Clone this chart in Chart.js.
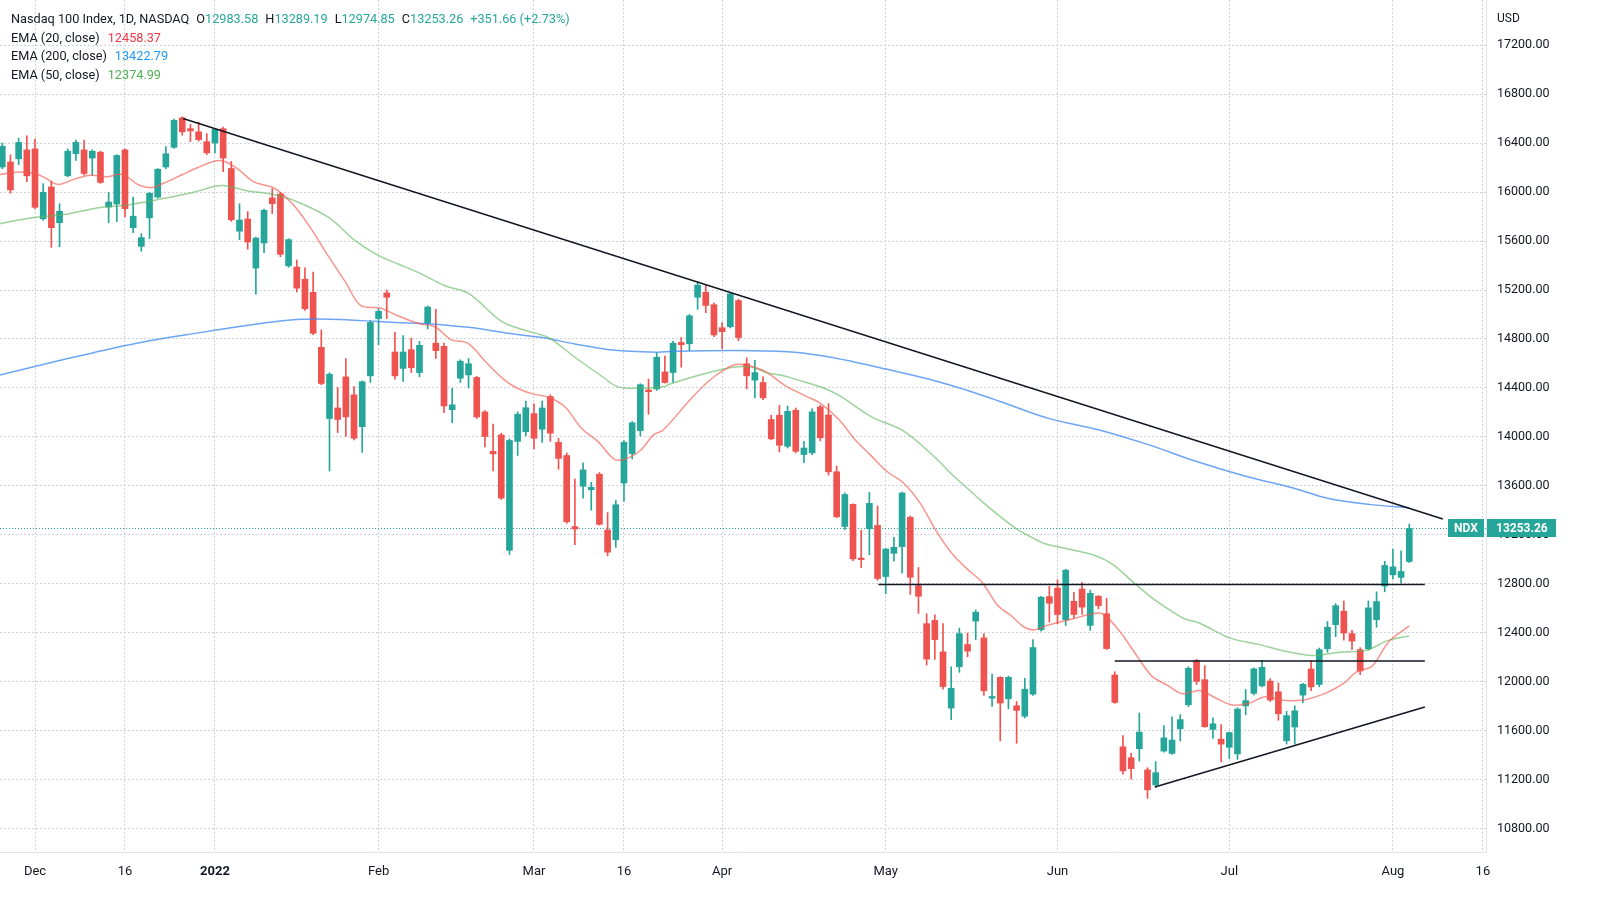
<!DOCTYPE html>
<html>
<head>
<meta charset="utf-8">
<script src="https://cdn.jsdelivr.net/npm/chart.js@4.4.0/dist/chart.umd.min.js"></script>
<style>
  html, body { margin:0; padding:0; background:#ffffff; }
  #wrap { position:relative; width:1606px; height:914px; overflow:hidden; background:#fff; }
  #c { position:absolute; left:0; top:0; }
  .legend { position:absolute; left:11px; top:10px; font:12.7px Roboto, 'Liberation Sans', sans-serif; color:#131722; line-height:18.7px; white-space:nowrap; }
  .legend .k { margin-left:7px; }
  .up { color:#26a69a; }
  .e20 { color:#f23645; }
  .e200 { color:#2196f3; }
  .e50 { color:#4caf50; }
  #usd { position:absolute; left:1497px; top:11px; font:12px Roboto, 'Liberation Sans', sans-serif; color:#131722; }
</style>
</head>
<body>
<div id="wrap">
  <canvas id="c" width="1606" height="914"></canvas>
  <div class="legend">
    <div>Nasdaq 100 Index, 1D, NASDAQ<span class="k">O</span><span class="up">12983.58</span><span class="k">H</span><span class="up">13289.19</span><span class="k">L</span><span class="up">12974.85</span><span class="k">C</span><span class="up">13253.26</span><span class="k up">+351.66 (+2.73%)</span></div>
    <div>EMA (20, close)<span class="e20" style="margin-left:8px">12458.37</span></div>
    <div>EMA (200, close)<span class="e200" style="margin-left:8px">13422.79</span></div>
    <div>EMA (50, close)<span class="e50" style="margin-left:8px">12374.99</span></div>
  </div>
  <div id="usd">USD</div>
</div>
<script>
// ---------------- DATA ----------------
// trading days (first entry = index -4, Dec 1 2021 = index 0)
const dates = ("2021-11-24 2021-11-26 2021-11-29 2021-11-30 " +
 "2021-12-01 2021-12-02 2021-12-03 2021-12-06 2021-12-07 2021-12-08 2021-12-09 2021-12-10 2021-12-13 2021-12-14 2021-12-15 2021-12-16 2021-12-17 2021-12-20 2021-12-21 2021-12-22 2021-12-23 2021-12-27 2021-12-28 2021-12-29 2021-12-30 2021-12-31 " +
 "2022-01-03 2022-01-04 2022-01-05 2022-01-06 2022-01-07 2022-01-10 2022-01-11 2022-01-12 2022-01-13 2022-01-14 2022-01-18 2022-01-19 2022-01-20 2022-01-21 2022-01-24 2022-01-25 2022-01-26 2022-01-27 2022-01-28 2022-01-31 " +
 "2022-02-01 2022-02-02 2022-02-03 2022-02-04 2022-02-07 2022-02-08 2022-02-09 2022-02-10 2022-02-11 2022-02-14 2022-02-15 2022-02-16 2022-02-17 2022-02-18 2022-02-22 2022-02-23 2022-02-24 2022-02-25 2022-02-28 " +
 "2022-03-01 2022-03-02 2022-03-03 2022-03-04 2022-03-07 2022-03-08 2022-03-09 2022-03-10 2022-03-11 2022-03-14 2022-03-15 2022-03-16 2022-03-17 2022-03-18 2022-03-21 2022-03-22 2022-03-23 2022-03-24 2022-03-25 2022-03-28 2022-03-29 2022-03-30 2022-03-31 " +
 "2022-04-01 2022-04-04 2022-04-05 2022-04-06 2022-04-07 2022-04-08 2022-04-11 2022-04-12 2022-04-13 2022-04-14 2022-04-18 2022-04-19 2022-04-20 2022-04-21 2022-04-22 2022-04-25 2022-04-26 2022-04-27 2022-04-28 2022-04-29 " +
 "2022-05-02 2022-05-03 2022-05-04 2022-05-05 2022-05-06 2022-05-09 2022-05-10 2022-05-11 2022-05-12 2022-05-13 2022-05-16 2022-05-17 2022-05-18 2022-05-19 2022-05-20 2022-05-23 2022-05-24 2022-05-25 2022-05-26 2022-05-27 2022-05-31 " +
 "2022-06-01 2022-06-02 2022-06-03 2022-06-06 2022-06-07 2022-06-08 2022-06-09 2022-06-10 2022-06-13 2022-06-14 2022-06-15 2022-06-16 2022-06-17 2022-06-21 2022-06-22 2022-06-23 2022-06-24 2022-06-27 2022-06-28 2022-06-29 2022-06-30 " +
 "2022-07-01 2022-07-05 2022-07-06 2022-07-07 2022-07-08 2022-07-11 2022-07-12 2022-07-13 2022-07-14 2022-07-15 2022-07-18 2022-07-19 2022-07-20 2022-07-21 2022-07-22 2022-07-25 2022-07-26 2022-07-27 2022-07-28 2022-07-29 " +
 "2022-08-01 2022-08-02 2022-08-03").split(" ");
const firstIndex = -4;

const opens = [16204,16245,16271,16344,
 16352,15781,16041,15749,16132,16312,16344,16277,16325,15877,15902,16344,15709,15556,15789,15958,16204,16365,16605,16517,16491,16411,
 16400,16517,16192,15680,15779,15379,15584,15952,15984,15397,15387,15288,15181,14732,14151,14237,14491,14344,14084,14499,
 14967,15176,14694,14560,14713,14526,14927,14766,14740,14223,14480,14507,14486,14205,13883,14017,13075,13964,14044,
 14191,14063,14330,13956,13849,13268,13597,13570,13696,13241,13161,13624,13865,14052,14384,14392,14531,14526,14772,14761,15141,15181,15080,
 14892,14900,15114,14598,14464,14445,14143,14178,13924,14218,13857,13870,14246,14180,13716,13270,13450,13012,13251,13278,
 12861,13050,13105,13344,12786,12476,12503,12246,11787,12125,12306,12497,12360,11868,12038,11863,11806,11720,11901,12427,12697,
 12767,12508,12659,12759,12462,12700,12557,12057,11471,11382,11455,11282,11160,11436,11417,11618,11814,12173,12019,11613,11533,
 11467,11413,11805,11907,11968,12008,11920,11520,11632,11893,12106,11980,12271,12468,12578,12395,12264,12271,12508,12783,
 12875,12854,12983.58];
const highs = [16400,16304,16440,16459,
 16432,16068,16089,15904,16352,16424,16424,16344,16333,15998,16304,16352,15958,15660,15998,16191,16370,16595,16615,16552,16571,16477,
 16520,16530,16251,15904,15840,15632,15860,16027,15995,15619,15445,15382,15347,14874,14525,14405,14641,14411,14459,14950,
 15047,15200,14855,14828,14807,14780,15070,15042,14766,14397,14630,14641,14495,14215,14106,14031,13985,14205,14293,
 14271,14293,14344,13990,13870,13656,13790,13629,13710,13383,13482,13970,14125,14435,14472,14686,14660,14780,14812,15000,15267,15240,15096,
 14935,15181,15125,14646,14625,14491,14178,14258,14253,14237,13964,14230,14259,14273,13763,13545,13455,13238,13548,13437,
 13092,13180,13551,13355,12935,12557,12549,12476,12125,12440,12400,12589,12395,12065,12044,12049,11841,12030,12346,12700,12781,
 12835,12920,12732,12813,12751,12705,12684,12084,11563,11417,11747,11300,11350,11644,11716,11733,12125,12185,12133,11707,11653,
 11592,11790,11939,12115,12179,12027,11992,11760,11805,11990,12172,12277,12494,12640,12662,12421,12280,12662,12736,12985,
 13085,13071,13289.19];
const lows = [16190,15990,16223,16084,
 15864,15768,15548,15553,16124,16258,16137,16137,16070,15749,15757,15797,15668,15516,15620,15950,16191,16355,16464,16411,16415,16305,
 16320,16165,15760,15611,15533,15165,15504,15824,15472,15385,15184,15034,14835,14427,13723,14036,14004,13977,13875,14445,
 14753,14967,14472,14453,14526,14491,14882,14641,14199,14116,14445,14400,14151,13918,13723,13490,13040,13849,14009,
 13902,13956,13964,13736,13295,13121,13501,13402,13281,13030,13100,13474,13822,14009,14186,14380,14440,14445,14571,14705,15042,15015,14820,
 14721,14890,14785,14392,14320,14305,13977,13878,13910,13870,13790,13855,13968,13689,13340,13243,12990,12933,13039,12830,
 12720,12986,12888,12715,12560,12138,12184,11941,11693,12079,12206,12346,11890,11801,11520,11782,11500,11706,11890,12415,12489,
 12476,12462,12524,12551,12422,12597,12265,11825,11247,11207,11355,11050,11140,11428,11409,11517,11800,11980,11630,11539,11347,
 11373,11368,11733,11895,11960,11840,11688,11493,11493,11832,11930,11960,12243,12369,12342,12264,12060,12260,12447,12736,
 12841,12809,12974.85];
const closes = [16373,16017,16405,16132,
 15875,15998,15709,15843,16333,16405,16151,16333,16078,15918,16298,15864,15802,15628,15990,16186,16312,16585,16491,16499,16427,16320,
 16512,16277,15773,15771,15592,15624,15851,15904,15491,15611,15215,15047,14847,14437,14512,14143,14164,13990,14451,14935,
 15026,15141,14499,14694,14566,14748,15061,14705,14253,14263,14619,14598,14164,14004,13862,13501,13972,14186,14239,
 13990,14237,14031,13825,13308,13249,13731,13589,13287,13060,13447,13956,14116,14427,14370,14651,14445,14766,14753,14989,15240,15074,14833,
 14860,15168,14812,14499,14526,14320,13985,13932,14210,13883,13910,14205,13994,13716,13349,13530,13005,12999,13458,12845,
 13085,13100,13543,12855,12700,12187,12346,11963,11949,12395,12252,12570,11928,11882,11828,12038,11768,11941,12281,12692,12643,
 12551,12913,12551,12611,12724,12624,12273,11833,11274,11293,11590,11120,11260,11544,11526,11693,12112,12005,11635,11659,11493,
 11587,11779,11848,12107,12120,11853,11741,11725,11765,11981,11960,12264,12447,12623,12400,12334,12090,12605,12657,12951,
 12940,12902,13253.26];

// EMA lines: [trading-day index, value]
const ema20 = [[-4.3,16143],[-2,16164],[0,16151],[1.2,16116],[2.8,16062],[4.8,16105],[6.8,16137],[8.8,16124],[10.7,16143],[12.7,16057],[14.3,16036],[15.7,16071],[17.9,16139],[19.9,16200],[21.9,16251],[23.1,16251],[24.7,16192],[26.7,16085],[27.9,16059],[29.1,16037],[30.3,15979],[31.9,15872],[33.9,15685],[35.9,15472],[38,15260],[39.8,15074],[42.2,15053],[44.2,14994],[46.9,14927],[48.9,14900],[50.9,14793],[52.9,14766],[55.2,14606],[57.3,14470],[58.9,14400],[60.8,14352],[62.8,14325],[64.8,14245],[66.8,14071],[68.8,13964],[70.8,13820],[72,13817],[74,13890],[75.6,14017],[76.8,14057],[80,14298],[82.4,14459],[84.7,14566],[85.9,14593],[87.9,14571],[89.5,14525],[91.7,14420],[94.3,14332],[95.9,14280],[98.3,14140],[100.2,13981],[102.2,13848],[104.2,13716],[106.2,13623],[108.2,13460],[110.2,13230],[112.2,13040],[114.2,12908],[115.8,12813],[117.7,12624],[119.3,12543],[120.9,12449],[122.1,12425],[123.7,12462],[125.3,12489],[126.9,12516],[128.9,12551],[130.5,12557],[132.5,12422],[134.5,12233],[136.5,12050],[138.4,11975],[140.2,11905],[142.4,11930],[144.4,11867],[146.4,11813],[148.4,11827],[150.4,11880],[152.3,11853],[154.3,11848],[155.5,11859],[158,11915],[160,11990],[161.5,12080],[163.5,12133],[165.5,12329],[168,12458.37]];
const ema50 = [[-4.3,15741],[-0.4,15789],[3.6,15816],[7.6,15869],[11.5,15896],[15.5,15944],[19.5,16000],[21.9,16045],[23.1,16053],[25.9,16011],[29.1,15979],[31.9,15925],[35.9,15792],[39.1,15605],[41.9,15485],[44.4,15412],[46.9,15342],[50.1,15235],[53,15172],[56.8,14954],[58.5,14900],[61,14850],[62.8,14812],[66,14651],[69.2,14500],[71.2,14411],[73.2,14397],[76.8,14410],[77.6,14432],[81.6,14512],[85.5,14571],[87.5,14571],[89.5,14525],[91.5,14500],[94.3,14445],[96,14410],[98.3,14339],[102.2,14167],[106.2,14047],[110.2,13822],[112,13700],[114,13580],[116,13460],[118,13350],[120,13250],[122,13175],[123.7,13124],[126,13090],[129.5,13035],[131.7,12962],[134.5,12800],[137,12665],[140.4,12520],[142.4,12480],[146,12360],[149.6,12307],[152.3,12260],[154.5,12230],[156.3,12216],[159.5,12243],[162.7,12258],[165.5,12342],[168,12374.99]];
const ema200 = [[-4.3,14506],[4,14640],[12,14760],[20,14850],[28,14930],[32,14959],[36,14962],[40,14950],[44,14935],[48,14925],[53,14895],[58,14845],[62,14812],[66,14760],[70,14715],[76,14692],[78,14700],[86,14706],[92,14695],[96,14665],[100,14615],[104,14555],[110,14460],[114,14380],[118,14290],[124,14150],[130,14060],[136,13940],[142,13800],[148,13680],[154,13580],[158,13500],[163,13450],[168,13422.79]];

// drawn trend lines: [index, value] end points
const downTrend   = [[18.1,16600],[172.1,13331]];
const upperLevel  = [[103.1,12795],[169.9,12795]];
const lowerLevel  = [[132.0,12172],[169.9,12172]];
const upTrend     = [[136.9,11143],[169.9,11796]];

// axes
const xTickIdx    = [0, 11, 22, 42, 61, 72, 84, 104, 125, 146, 166, 177];
const xTickLabels = ['Dec','16','2022','Feb','Mar','16','Apr','May','Jun','Jul','Aug','16'];
const yTicks      = [10800,11200,11600,12000,12400,12800,13200,13600,14000,14400,14800,15200,15600,16000,16400,16800,17200];
const symbolName  = 'NDX';

// ---------------- STYLE ----------------
const UP = '#26a69a', DOWN = '#ef5350';
const GRID = '#cfd2d8';
const FONT = "Roboto, 'Liberation Sans', sans-serif";
const X_MIN = -4.279, X_MAX = 177.38;
const Y_MIN = 10612.24, Y_MAX = 17567.35;

const pts = arr => arr.map(p => ({x:p[0], y:p[1]}));
const candleColors = closes.map((c,i) => c >= opens[i] ? UP : DOWN);
const wickData = dates.map((d,i) => ({x: i + firstIndex, y: [lows[i], highs[i]]}));
const bodyData = dates.map((d,i) => ({x: i + firstIndex, y: [opens[i], closes[i]]}));

const lineDs = (data, color, width, order) => ({
  type:'line', data: pts(data), borderColor: color, borderWidth: width,
  pointRadius:0, tension:0.35, fill:false, order: order
});

const noPad = s => { s.paddingTop = 0; s.paddingBottom = 0; s.paddingLeft = 0; s.paddingRight = 0; };

const priceLine = {
  id:'priceLine',
  beforeDatasetsDraw(chart){
    const {ctx, chartArea:a, scales:{y}} = chart;
    const last = closes[closes.length-1];
    const py = Math.round(y.getPixelForValue(last)) + 0.5;
    ctx.save();
    ctx.strokeStyle = UP; ctx.lineWidth = 1; ctx.setLineDash([1,2]);
    ctx.beginPath(); ctx.moveTo(a.left, py); ctx.lineTo(a.right, py); ctx.stroke();
    ctx.restore();
  },
  afterDraw(chart){
    const {ctx, chartArea:a, scales:{y}} = chart;
    const last = closes[closes.length-1];
    const py = Math.round(y.getPixelForValue(last));
    ctx.save();
    ctx.fillStyle = UP;
    ctx.fillRect(a.right - 38, py - 9, 36, 18);
    ctx.fillRect(a.right + 1, py - 9, 69, 18);
    ctx.fillStyle = '#ffffff';
    ctx.font = 'bold 12px ' + FONT;
    ctx.textBaseline = 'middle';
    ctx.textAlign = 'center';
    ctx.fillText(symbolName, a.right - 20, py + 1);
    ctx.textAlign = 'left';
    ctx.fillText(last.toFixed(2), a.right + 10, py + 1);
    ctx.restore();
  }
};

new Chart(document.getElementById('c'), {
  type:'bar',
  data:{ datasets:[
    lineDs(downTrend, '#131722', 1.5, 0),
    lineDs(upperLevel, '#131722', 1.5, 0),
    lineDs(lowerLevel, '#131722', 1.5, 0),
    lineDs(upTrend, '#131722', 1.5, 0),
    lineDs(ema20, 'rgba(242,90,80,0.65)', 1.5, 1),
    lineDs(ema50, 'rgba(90,180,90,0.6)', 1.5, 1),
    lineDs(ema200, 'rgba(60,135,240,0.75)', 1.5, 1),
    { type:'bar', data: bodyData, backgroundColor: candleColors, borderWidth:0,
      barThickness:6, grouped:false, minBarLength:1, order:2 },
    { type:'bar', data: wickData, backgroundColor: candleColors, borderWidth:0,
      barThickness:1, grouped:false, order:3 }
  ]},
  options:{
    responsive:false, animation:false, maintainAspectRatio:false,
    layout:{ padding:0 },
    plugins:{ legend:{display:false}, tooltip:{enabled:false} },
    scales:{
      x:{
        type:'linear', min:X_MIN, max:X_MAX, offset:false,
        afterBuildTicks: s => { s.ticks = xTickIdx.map(v => ({value:v})); },
        afterFit: s => { s.height = 62; noPad(s); },
        grid:{ color:GRID, offset:false, drawTicks:false },
        border:{ display:true, color:'#e0e3eb', dash:[2,2] },
        ticks:{
          autoSkip:false, maxRotation:0, padding:12, color:'#131722',
          callback: (v, i) => xTickLabels[i],
          font: c => ({ family:FONT, size:13, weight: (c.tick && c.tick.label === '2022') ? 'bold' : 'normal' })
        }
      },
      y:{
        type:'linear', position:'right', min:Y_MIN, max:Y_MAX,
        afterBuildTicks: s => { s.ticks = yTicks.map(v => ({value:v})); },
        afterFit: s => { s.width = 120; noPad(s); },
        grid:{ color:GRID, drawTicks:false },
        border:{ display:true, color:'#e0e3eb', dash:[2,2] },
        ticks:{ padding:11, color:'#131722', font:{family:FONT, size:12.5},
          callback: v => Number(v).toFixed(2) }
      }
    }
  },
  plugins:[priceLine]
});
</script>
</body>
</html>
